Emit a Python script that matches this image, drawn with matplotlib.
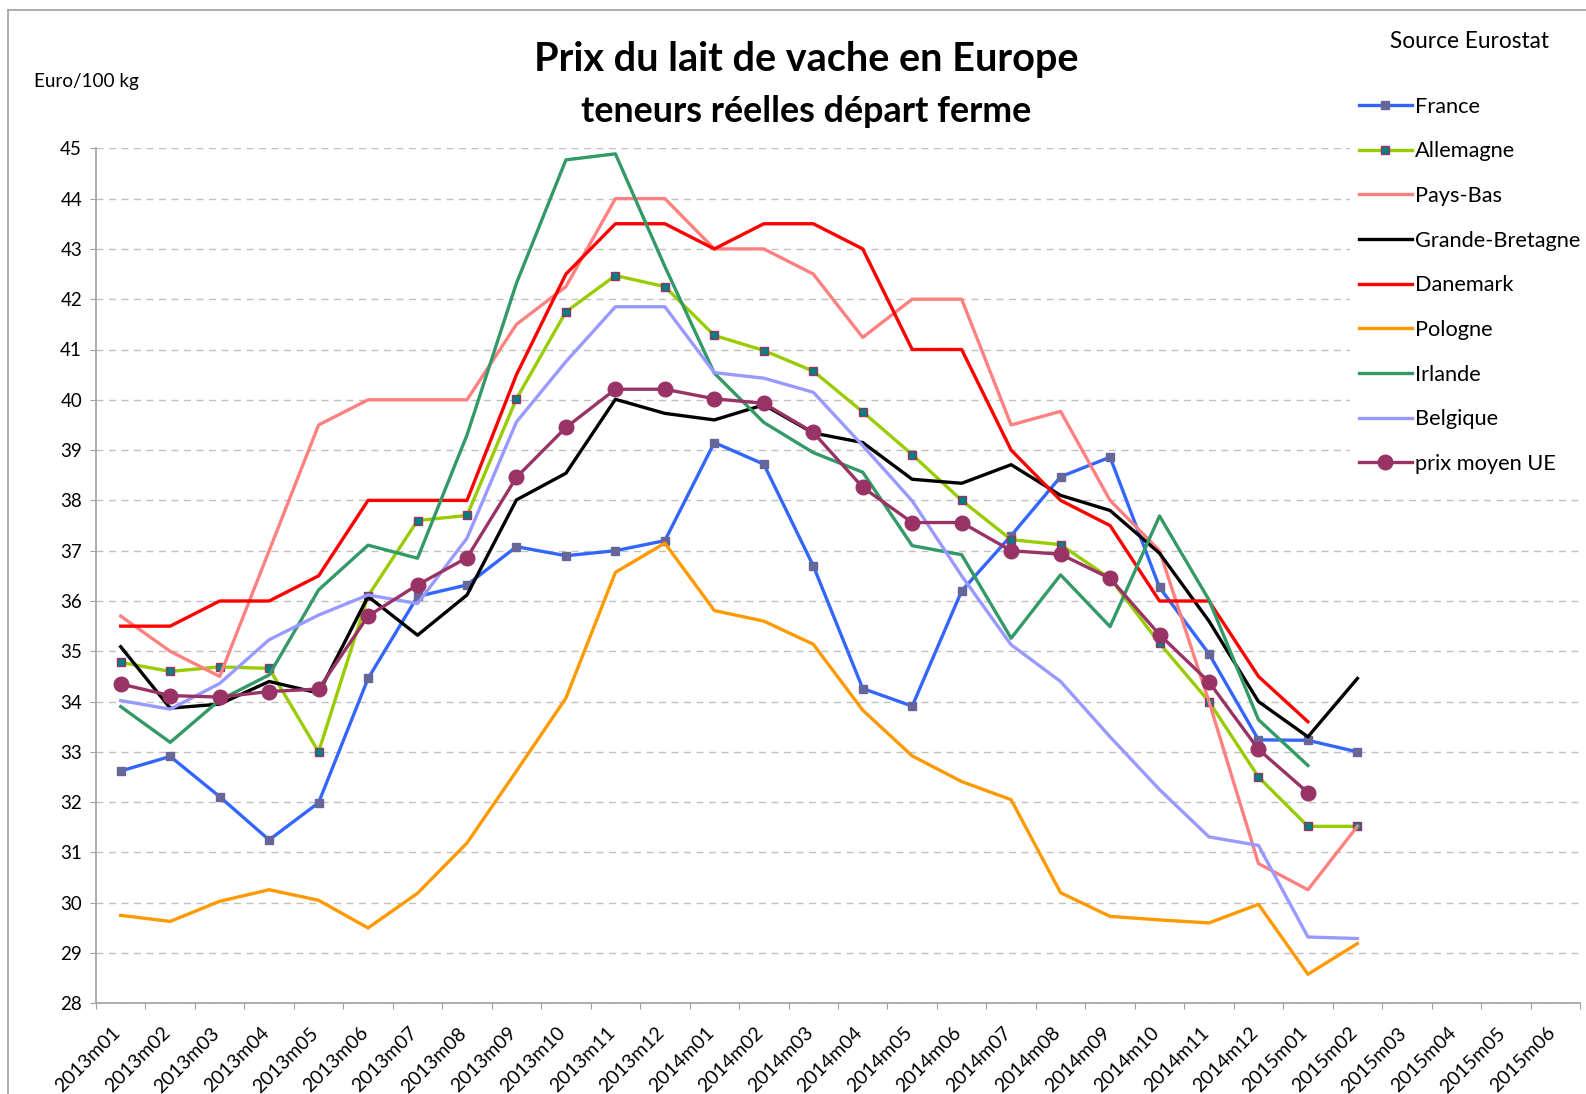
import numpy as np
import matplotlib.pyplot as plt
import matplotlib.transforms as mtransforms
from matplotlib.lines import Line2D

plt.rcParams['font.family'] = ['Lato', 'DejaVu Sans']

nan = np.nan

mois = ['2013m01', '2013m02', '2013m03', '2013m04', '2013m05', '2013m06',
        '2013m07', '2013m08', '2013m09', '2013m10', '2013m11', '2013m12',
        '2014m01', '2014m02', '2014m03', '2014m04', '2014m05', '2014m06',
        '2014m07', '2014m08', '2014m09', '2014m10', '2014m11', '2014m12',
        '2015m01', '2015m02', '2015m03', '2015m04', '2015m05', '2015m06']

france = [32.62, 32.91, 32.11, 31.25, 31.99, 34.46, 36.09, 36.32, 37.08, 36.90,
          37.00, 37.20, 39.15, 38.72, 36.70, 34.26, 33.91, 36.20, 37.30, 38.47,
          38.86, 36.27, 34.95, 33.24, 33.23, 33.00]
allemagne = [34.78, 34.60, 34.69, 34.66, 33.00, 36.10, 37.60, 37.70, 40.02, 41.75,
             42.47, 42.25, 41.28, 40.98, 40.57, 39.76, 38.91, 38.00, 37.22, 37.12,
             36.45, 35.16, 34.00, 32.50, 31.52, 31.52]
pays_bas = [35.70, 35.00, 34.50, 37.00, 39.50, 40.00, 40.00, 40.00, 41.50, 42.25,
            44.00, 44.00, 43.00, 43.00, 42.50, 41.24, 42.00, 42.00, 39.50, 39.77,
            38.00, 37.00, 34.00, 30.78, 30.26, 31.52]
grande_bretagne = [35.09, 33.87, 33.95, 34.40, 34.17, 36.09, 35.32, 36.12, 38.01, 38.54,
                   40.01, 39.73, 39.60, 39.90, 39.34, 39.15, 38.42, 38.34, 38.71, 38.10,
                   37.80, 36.95, 35.60, 34.00, 33.30, 34.46]
danemark = [35.5, 35.5, 36.0, 36.0, 36.5, 38.0, 38.0, 38.0, 40.5, 42.5,
            43.5, 43.5, 43.0, 43.5, 43.5, 43.0, 41.0, 41.0, 39.0, 38.0,
            37.5, 36.0, 36.0, 34.5, 33.6, nan]
pologne = [29.75, 29.63, 30.03, 30.26, 30.05, 29.50, 30.19, 31.19, 32.62, 34.07,
           36.57, 37.15, 35.81, 35.60, 35.14, 33.83, 32.92, 32.41, 32.05, 30.20,
           29.73, 29.66, 29.60, 29.97, 28.58, 29.19]
irlande = [33.90, 33.19, 34.03, 34.53, 36.22, 37.11, 36.85, 39.30, 42.32, 44.77,
           44.89, 42.65, 40.53, 39.55, 38.95, 38.56, 37.10, 36.92, 35.26, 36.52,
           35.49, 37.69, 36.02, 33.64, 32.73, nan]
belgique = [34.02, 33.85, 34.36, 35.23, 35.72, 36.12, 35.95, 37.25, 39.56, 40.76,
            41.85, 41.85, 40.54, 40.43, 40.15, 39.09, 37.99, 36.50, 35.13, 34.40,
            33.30, 32.25, 31.31, 31.14, 29.32, 29.29]
moyen_ue = [34.35, 34.12, 34.09, 34.20, 34.25, 35.70, 36.32, 36.86, 38.46, 39.45,
            40.21, 40.21, 40.02, 39.93, 39.35, 38.26, 37.56, 37.56, 37.00, 36.93,
            36.45, 35.33, 34.39, 33.05, 32.19, nan]

series = [
    ('France', france, dict(color='#3366FF', marker='s', ms=6, mfc='#666699', mec='#666699')),
    ('Allemagne', allemagne, dict(color='#99CC00', marker='s', ms=6, mfc='#008080', mec='#993366', mew=1)),
    ('Pays-Bas', pays_bas, dict(color='#FF8080')),
    ('Grande-Bretagne', grande_bretagne, dict(color='black')),
    ('Danemark', danemark, dict(color='#FF0000')),
    ('Pologne', pologne, dict(color='#FF9900')),
    ('Irlande', irlande, dict(color='#339966')),
    ('Belgique', belgique, dict(color='#9999FF')),
    ('prix moyen UE', moyen_ue, dict(color='#993366', marker='o', ms=10.5, mfc='#993366', mec='#993366')),
]

W, H = 1586, 1094
fig = plt.figure(figsize=(W / 100, H / 100), dpi=100)
ax = fig.add_axes([96 / W, 1 - 1003.4 / H, (1580 - 96) / W, (1003.4 - 148.3) / H])

x = np.arange(len(france))
handles = []
for nom, vals, style in series:
    ln, = ax.plot(x, vals, lw=2.4, label=nom, **style)
    handles.append(ln)

ax.set_xlim(-0.5, len(mois) - 0.5)
ax.set_ylim(28, 45)
ax.set_yticks(range(28, 46))
ax.yaxis.grid(True, color='#C0C0C0', ls=(0, (5, 4)), lw=1)
ax.set_axisbelow(True)

ax.set_xticks(np.arange(-0.5, len(mois), 1))
ax.tick_params(axis='x', which='major', length=4.3, color='#A0A0A0', labelbottom=False)
ax.set_xticks(np.arange(len(mois)), minor=True)
ax.set_xticklabels(mois, minor=True, rotation=45, ha='right', va='top',
                   rotation_mode='anchor', fontsize=14)
ax.tick_params(axis='x', which='minor', length=0, pad=15)
decal = mtransforms.ScaledTranslation(-9 / 100, 0, fig.dpi_scale_trans)
for lab in ax.get_xticklabels(minor=True):
    lab.set_transform(lab.get_transform() + decal)
ax.tick_params(axis='y', length=4, color='#A0A0A0', labelsize=13.5, pad=6)

for s in ['top', 'right']:
    ax.spines[s].set_visible(False)
for s in ['left', 'bottom']:
    ax.spines[s].set_color('#A6A6A6')
    ax.spines[s].set_linewidth(1.3)

fig.text(806 / W, 1 - 60 / H, 'Prix du lait de vache en Europe', ha='center', va='center',
         fontsize=28.5, fontweight='bold')
fig.text(806 / W, 1 - 111 / H, 'teneurs réelles départ ferme', ha='center', va='center',
         fontsize=25.8, fontweight='bold')
fig.text(34 / W, 1 - 81 / H, 'Euro/100 kg', ha='left', va='center', fontsize=13.6)
fig.text(1469 / W, 1 - 42 / H, 'Source Eurostat', ha='center', va='center', fontsize=16.3)

leg = fig.legend(handles, [h.get_label() for h in handles], loc='upper left',
                 bbox_to_anchor=(1350 / W, 1 - 88 / H), frameon=True, fontsize=15.7,
                 handlelength=2.43, handletextpad=0.15, labelspacing=1.13, numpoints=1,
                 borderpad=0.4, borderaxespad=0)
leg.get_frame().set_facecolor('white')
leg.get_frame().set_edgecolor('none')
leg.get_frame().set_alpha(1)

# cadre gris du graphique
fig.add_artist(Line2D([7.5 / W, 1], [1 - 10 / H, 1 - 10 / H], color='#A0A0A0', lw=1.2))
fig.add_artist(Line2D([7.5 / W, 7.5 / W], [0, 1 - 10 / H], color='#A0A0A0', lw=1.2))

fig.savefig('out.png', dpi=100)
